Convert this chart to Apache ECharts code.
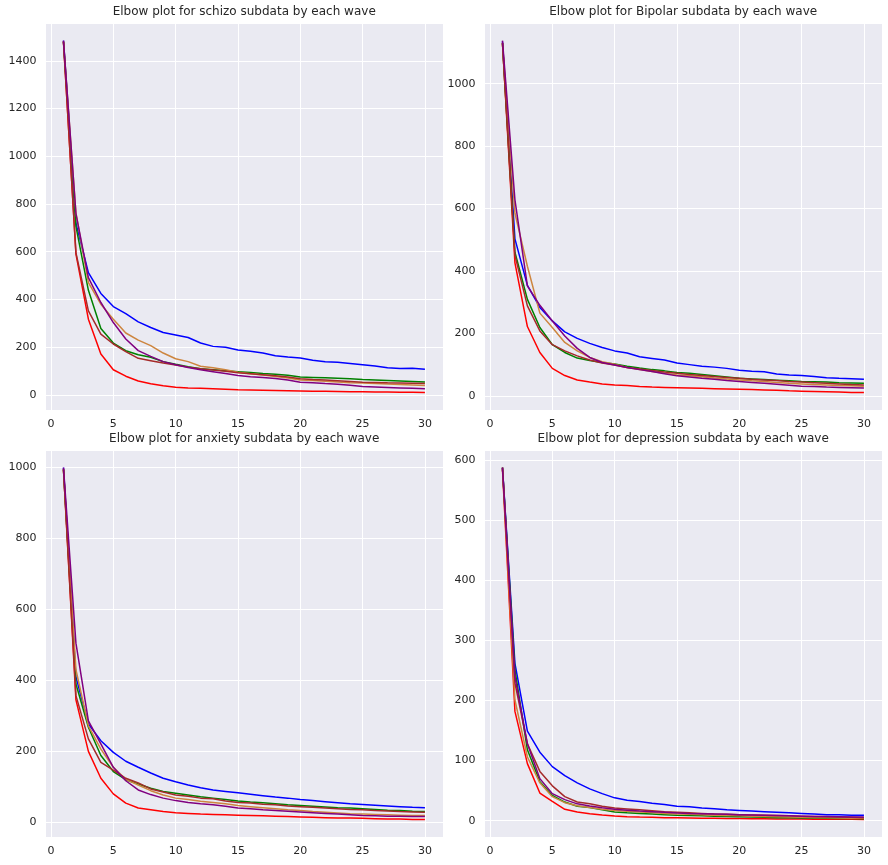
<!DOCTYPE html>
<html>
<head>
<meta charset="utf-8">
<script src="https://cdn.jsdelivr.net/npm/echarts@6/dist/echarts.min.js"></script>
<style>
html,body{margin:0;padding:0;background:#ffffff;}
#chart{width:888px;height:865px;}
</style>
</head>
<body>
<div id="chart"></div>
<script>
// ---- data ----
const clusterCounts = [1,2,3,4,5,6,7,8,9,10,11,12,13,14,15,16,17,18,19,20,21,22,23,24,25,26,27,28,29,30];
const panelTitles = [
  'Elbow plot for schizo subdata by each wave',
  'Elbow plot for Bipolar subdata by each wave',
  'Elbow plot for anxiety subdata by each wave',
  'Elbow plot for depression subdata by each wave'
];
const xTickStep = 5;
const yTickSteps = [200, 200, 200, 100];
const waveColors = ['#0000ff', '#ff0000', '#008000', '#cd853f', '#a52a2a', '#800080'];

// schizo
const schizoBlue   = [1485,720,512,425,370,340,306,282,261,251,240,217,203,199,188,183,175,164,158,154,145,139,136,131,126,121,113,110,111,107];
const schizoRed    = [1480,590,317,171,105,78,58,46,38,32,29,27,25,23,21,20,19,18,17,16,15,15,14,13,13,12,12,11,11,10];
const schizoGreen  = [1480,706,438,278,217,185,168,157,139,128,118,109,105,101,97,93,89,86,82,75,73,71,69,67,64,62,60,58,56,54];
const schizoPeru   = [1480,763,470,380,317,259,229,206,175,151,139,120,113,105,95,88,83,77,70,62,60,57,54,51,49,47,45,43,41,39];
const schizoBrown  = [1480,596,352,254,213,181,153,143,133,125,116,109,104,99,92,88,84,80,75,67,64,62,59,56,53,52,50,49,48,47];
const schizoPurple = [1485,760,491,387,303,234,185,161,139,126,114,105,97,89,81,76,72,68,62,53,51,47,44,40,35,33,31,29,27,25];

// bipolar
const bipolarBlue   = [1135,503,354,283,240,205,184,168,155,144,137,125,120,115,105,100,95,92,88,82,79,77,70,67,65,62,58,56,55,53];
const bipolarRed    = [1130,426,222,139,88,65,51,44,38,35,33,30,28,27,26,25,24,23,22,21,20,19,18,16,15,14,13,12,11,11];
const bipolarGreen  = [1130,460,309,219,164,139,121,113,107,102,95,89,84,80,75,72,68,64,60,56,54,52,50,48,46,45,44,42,41,40];
const bipolarPeru   = [1130,585,415,265,219,171,144,123,109,101,91,84,78,72,67,64,61,57,54,51,48,46,43,40,38,36,35,33,32,31];
const bipolarBrown  = [1130,450,288,208,164,144,128,115,105,99,91,86,81,76,72,68,65,62,59,56,53,51,49,46,44,42,40,38,36,35];
const bipolarPurple = [1138,628,352,290,240,192,152,123,107,99,91,84,78,71,64,60,56,53,49,46,43,40,37,34,31,30,28,27,26,25];

// anxiety
const anxietyBlue   = [1000,410,277,230,197,172,155,139,124,114,105,97,91,87,83,79,75,71,68,64,61,58,55,52,50,48,46,44,42,41];
const anxietyRed    = [995,345,200,124,80,54,40,35,30,27,25,23,22,21,20,19,18,17,16,15,14,13,12,12,11,10,9,9,8,8];
const anxietyGreen  = [995,390,268,188,143,120,108,96,87,82,77,72,68,64,60,57,55,52,49,47,45,43,41,40,38,36,34,33,31,30];
const anxietyPeru   = [995,430,272,206,155,121,105,89,77,68,64,59,56,52,47,44,41,38,35,33,30,28,26,24,23,22,21,20,19,19];
const anxietyBrown  = [995,357,235,169,147,124,111,94,85,77,73,68,66,60,56,54,51,49,46,44,42,40,38,36,35,33,32,30,29,28];
const anxietyPurple = [1000,505,286,221,155,117,91,78,68,61,56,52,49,45,40,38,35,33,31,29,27,25,23,21,19,18,17,17,16,16];

// depression
const depressionBlue   = [588,262,149,114,90,75,63,53,45,38,34,32,29,27,24,23,21,20,18,17,16,15,14,13,12,11,10,10,9,9];
const depressionRed    = [585,182,95,46,32,19,14.5,11.7,9.4,7.8,6.7,6,5.5,5,4.7,4.4,4.1,3.9,3.7,3.5,3.3,3.1,2.9,2.8,2.7,2.5,2.4,2.3,2.2,2.1];
const depressionGreen  = [588,251,118,65,42,31,24,22,18,14.5,13,12,11,10,9,8.5,8,7.5,7,6.5,6,5.5,5,4.8,4.5,4.2,4,3.7,3.5,3.3];
const depressionPeru   = [588,201,106,63,40,30,25,22,19,17,15.5,14.5,13.5,12,11,10.5,10,9,8.5,8,7.5,7,6.5,6,5.5,5,4.8,4.5,4.2,4];
const depressionBrown  = [588,229,128,82,58,40,31,28,24,21,19.5,18,16.5,15,14,13,12,11,10.5,10,9.5,9,8.5,8,7.5,7,6.5,6,5.5,5];
const depressionPurple = [588,240,128,70,45,35,28,24.5,21.5,19,17.5,16,15,14,12.8,12,11.5,11,10.5,10,9.5,9,8.5,8,7.5,7,6.8,6.5,6.2,6];

const panels = [
  [schizoBlue, schizoRed, schizoGreen, schizoPeru, schizoBrown, schizoPurple],
  [bipolarBlue, bipolarRed, bipolarGreen, bipolarPeru, bipolarBrown, bipolarPurple],
  [anxietyBlue, anxietyRed, anxietyGreen, anxietyPeru, anxietyBrown, anxietyPurple],
  [depressionBlue, depressionRed, depressionGreen, depressionPeru, depressionBrown, depressionPurple]
];

// ---- layout ----
const gridBoxes = [
  {left: 45.4, top: 23, width: 397.6, height: 387},
  {left: 484.4, top: 23, width: 397.6, height: 387},
  {left: 45.4, top: 450, width: 397.6, height: 387},
  {left: 484.4, top: 450, width: 397.6, height: 387}
];
const titleTops = [6, 6, 433, 433];
const textColor = '#262626';
const fontFamily = 'DejaVu Sans';

function isMultiple(v, step) {
  const r = Math.abs(v / step - Math.round(v / step));
  return r < 1e-6;
}

const xMinData = Math.min.apply(null, clusterCounts);
const xMaxData = Math.max.apply(null, clusterCounts);
const xPad = (xMaxData - xMinData) * 0.05;

const option = {
  animation: false,
  backgroundColor: '#ffffff',
  title: [], grid: [], xAxis: [], yAxis: [], series: []
};

panels.forEach(function (lines, i) {
  const box = gridBoxes[i];
  let lo = Infinity, hi = -Infinity;
  lines.forEach(function (arr) { arr.forEach(function (v) { lo = Math.min(lo, v); hi = Math.max(hi, v); }); });
  const pad = (hi - lo) * 0.05;
  const step = yTickSteps[i];

  option.title.push({
    text: panelTitles[i],
    left: box.left + box.width / 2,
    top: titleTops[i],
    textAlign: 'center',
    padding: 0,
    textStyle: {fontSize: 12, fontWeight: 'normal', color: textColor, fontFamily: fontFamily}
  });
  option.grid.push({
    left: box.left, top: box.top, width: box.width, height: box.height,
    show: true, backgroundColor: '#eaeaf2', borderWidth: 0, containLabel: false
  });
  option.xAxis.push({
    type: 'value', gridIndex: i,
    min: xMinData - xPad, max: xMaxData + xPad,
    minInterval: xTickStep, maxInterval: xTickStep,
    axisLine: {show: false}, axisTick: {show: false},
    splitLine: {show: true, lineStyle: {color: '#ffffff', width: 1}},
    axisLabel: {
      color: textColor, fontSize: 11, fontFamily: fontFamily, margin: 9,
      formatter: function (v) { return isMultiple(v, xTickStep) ? String(Math.round(v)) : ''; }
    }
  });
  option.yAxis.push({
    type: 'value', gridIndex: i,
    min: lo - pad, max: hi + pad,
    minInterval: step, maxInterval: step,
    axisLine: {show: false}, axisTick: {show: false},
    splitLine: {show: true, lineStyle: {color: '#ffffff', width: 1}},
    axisLabel: {
      color: textColor, fontSize: 11, fontFamily: fontFamily, margin: 9,
      formatter: function (v) { return isMultiple(v, step) ? String(Math.round(v)) : ''; }
    }
  });
  lines.forEach(function (arr, j) {
    option.series.push({
      type: 'line', xAxisIndex: i, yAxisIndex: i,
      data: clusterCounts.map(function (k, n) { return [k, arr[n]]; }),
      showSymbol: false, symbol: 'none',
      lineStyle: {color: waveColors[j], width: 1.5},
      itemStyle: {color: waveColors[j]},
      emphasis: {disabled: true},
      z: 2 + j
    });
  });
});

const chart = echarts.init(document.getElementById('chart'), null, {renderer: 'canvas'});
chart.setOption(option);
</script>
</body>
</html>
